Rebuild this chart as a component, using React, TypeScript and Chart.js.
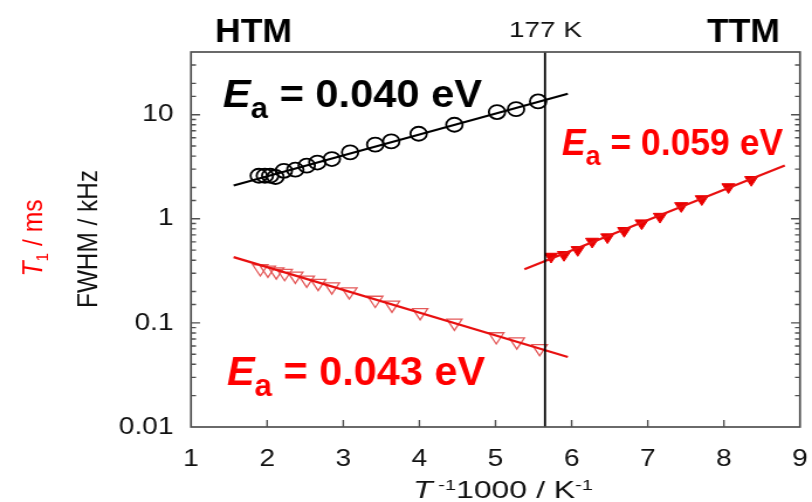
import React, { useEffect, useRef } from "react";
import { Chart, registerables } from "chart.js";

Chart.register(...registerables);

// The figure is horizontally stretched: logical canvas width is drawn into 812 CSS px.
const CSS_W = 812;
const CSS_H = 502;
const LOGICAL_W = 694;
const S = CSS_W / LOGICAL_W;

// ---- data (x = 1000/T in K^-1) ----
const fwhmX = [1.89, 1.97, 2.04, 2.11, 2.22, 2.37, 2.52, 2.66, 2.85, 3.09, 3.42, 3.63, 3.99, 4.46, 5.02, 5.27, 5.56];
const fwhmY = [2.59, 2.59, 2.59, 2.52, 2.89, 2.96, 3.24, 3.47, 3.75, 4.35, 5.15, 5.54, 6.56, 8.0, 10.6, 11.3, 13.4];

const t1HtmX = [1.91, 2.01, 2.12, 2.23, 2.37, 2.52, 2.67, 2.85, 3.08, 3.42, 3.64, 4.01, 4.46, 5.01, 5.28, 5.58];
const t1HtmY = [0.333, 0.323, 0.311, 0.3, 0.283, 0.259, 0.241, 0.223, 0.2, 0.166, 0.149, 0.126, 0.1, 0.074, 0.066, 0.057];

const t1TtmX = [5.73, 5.9, 6.08, 6.27, 6.47, 6.69, 6.92, 7.16, 7.44, 7.71, 8.06, 8.36];
const t1TtmY = [0.434, 0.451, 0.503, 0.605, 0.667, 0.767, 0.908, 1.05, 1.33, 1.55, 2.02, 2.37];

const fitFwhmX = [1.56, 5.95];
const fitFwhmY = [2.09, 15.9];
const fitHtmX = [1.56, 5.95];
const fitHtmY = [0.428, 0.047];
const fitTtmX = [5.38, 8.8];
const fitTtmY = [0.328, 3.25];

const transitionX = [5.65, 5.65];
const transitionY = [0.01, 40];

const xTickValues = [1, 2, 3, 4, 5, 6, 7, 8, 9];
const yMajorValues = [0.01, 0.1, 1, 10];
const yMajorLabels = ["0.01", "0.1", "1", "10"];

const FONT = '"Liberation Sans", Arial, Helvetica, sans-serif';
const RED = "#ff0000";

const pts = (xs: number[], ys: number[]) => xs.map((x, i) => ({ x, y: ys[i] }));

const majorIndex = (v: number) => {
  for (let i = 0; i < yMajorValues.length; i++) {
    if (Math.abs(Math.log10(v) - Math.log10(yMajorValues[i])) < 1e-6) return i;
  }
  return -1;
};

type Part = { t: string; size: number; bold?: boolean; italic?: boolean; dy?: number };

const fontOf = (p: Part) =>
  `${p.italic ? "italic " : ""}${p.bold ? "bold " : ""}${p.size}px ${FONT}`;

function naturalWidth(ctx: CanvasRenderingContext2D, parts: Part[]) {
  let w = 0;
  for (const p of parts) {
    ctx.font = fontOf(p);
    w += ctx.measureText(p.t).width;
  }
  return w;
}

function drawRow(ctx: CanvasRenderingContext2D, parts: Part[]) {
  let cx = 0;
  ctx.textAlign = "left";
  ctx.textBaseline = "alphabetic";
  for (const p of parts) {
    ctx.font = fontOf(p);
    ctx.fillText(p.t, cx, p.dy || 0);
    cx += ctx.measureText(p.t).width;
  }
}

// horizontal text: left edge & width given in screen px
function drawText(ctx: CanvasRenderingContext2D, parts: Part[], xScreen: number, baseline: number, wScreen: number, color: string) {
  ctx.save();
  ctx.fillStyle = color;
  const w = naturalWidth(ctx, parts);
  const sx = wScreen / S / w;
  ctx.translate(xScreen / S, baseline);
  ctx.scale(sx, 1);
  drawRow(ctx, parts);
  ctx.restore();
}

// vertical text (reads bottom-to-top): baseline x (screen), centre y, length in px
function drawVText(ctx: CanvasRenderingContext2D, parts: Part[], baseXScreen: number, cy: number, len: number, color: string) {
  ctx.save();
  ctx.fillStyle = color;
  const w = naturalWidth(ctx, parts);
  const sx = len / w;
  ctx.translate(baseXScreen / S, cy);
  ctx.rotate(-Math.PI / 2);
  ctx.translate(-len / 2, 0);
  ctx.scale(sx, 1);
  drawRow(ctx, parts);
  ctx.restore();
}

const Ea = (value: string, size: number): Part[] => [
  { t: "E", size, bold: true, italic: true },
  { t: "a", size: Math.round(size * 0.75), bold: true, dy: Math.round(size * 0.28) },
  { t: " = " + value + " eV", size, bold: true },
];

const overlay = {
  id: "overlay",
  afterDraw(chart: any) {
    const ctx: CanvasRenderingContext2D = chart.ctx;
    const { left, right, top, bottom } = chart.chartArea;
    const xs = chart.scales.x;
    const ys = chart.scales.y;
    ctx.save();
    ctx.strokeStyle = "#505050";
    ctx.lineWidth = 1.7;
    ctx.strokeRect(left, top, right - left, bottom - top);
    ctx.lineWidth = 1.4;
    ctx.beginPath();
    ys.ticks.forEach((t: any) => {
      const yy = ys.getPixelForValue(t.value);
      if (yy <= top + 0.5 || yy >= bottom - 0.5) return;
      const len = (majorIndex(t.value) >= 0 ? 9 : 5) / S;
      ctx.moveTo(left, yy);
      ctx.lineTo(left + len, yy);
      ctx.moveTo(right, yy);
      ctx.lineTo(right - len, yy);
    });
    xs.ticks.forEach((t: any) => {
      const xx = xs.getPixelForValue(t.value);
      if (xx <= left + 0.5 || xx >= right - 0.5) return;
      ctx.moveTo(xx, bottom);
      ctx.lineTo(xx, bottom - 7);
    });
    ctx.stroke();
    ctx.restore();

    // annotations
    drawText(ctx, [{ t: "HTM", size: 33, bold: true }], 215, 42, 77, "#000");
    drawText(ctx, [{ t: "TTM", size: 34, bold: true }], 707, 42, 73, "#000");
    drawText(ctx, [{ t: "177 K", size: 22 }], 509, 37, 73, "#111");
    drawText(ctx, Ea("0.040", 39), 223, 107, 259, "#000");
    drawText(ctx, Ea("0.059", 37), 562, 155, 221, RED);
    drawText(ctx, Ea("0.043", 41), 227, 385, 258, RED);

    // axis titles
    drawVText(ctx, [{ t: "FWHM / kHz", size: 24 }], 97, 239, 138, "#111");
    drawVText(
      ctx,
      [
        { t: "T", size: 24, italic: true },
        { t: "1", size: 15, dy: 5 },
        { t: " / ms", size: 24 },
      ],
      42,
      238,
      77,
      RED
    );
    drawText(
      ctx,
      [
        { t: "T", size: 24, italic: true },
        { t: " -1", size: 15, dy: -8 },
        { t: "1000 / K", size: 24 },
        { t: "-1", size: 15, dy: -8 },
      ],
      413,
      498,
      180,
      "#111"
    );
  },
};

export default function App() {
  const ref = useRef<HTMLCanvasElement | null>(null);

  useEffect(() => {
    document.body.style.margin = "0";
    const canvas = ref.current;
    if (!canvas) return;
    const chart = new Chart(canvas, {
      type: "scatter",
      data: {
        datasets: [
          {
            label: "177 K",
            data: pts(transitionX, transitionY),
            showLine: true,
            borderColor: "#000",
            borderWidth: 1.8,
            pointRadius: 0,
          },
          {
            label: "FWHM fit",
            data: pts(fitFwhmX, fitFwhmY),
            showLine: true,
            borderColor: "#000",
            borderWidth: 2.2,
            pointRadius: 0,
          },
          {
            label: "T1 HTM fit",
            data: pts(fitHtmX, fitHtmY),
            showLine: true,
            borderColor: "rgb(232,16,16)",
            borderWidth: 2.2,
            pointRadius: 0,
          },
          {
            label: "T1 TTM fit",
            data: pts(fitTtmX, fitTtmY),
            showLine: true,
            borderColor: "rgb(232,16,16)",
            borderWidth: 2.2,
            pointRadius: 0,
          },
          {
            label: "FWHM",
            data: pts(fwhmX, fwhmY),
            pointStyle: "circle",
            pointRadius: 7,
            pointBorderWidth: 1.8,
            borderColor: "#000",
            backgroundColor: "rgba(0,0,0,0)",
          },
          {
            label: "T1 HTM",
            data: pts(t1HtmX, t1HtmY),
            pointStyle: "triangle",
            rotation: 180,
            pointRadius: 7.5,
            pointBorderWidth: 1.3,
            borderColor: "rgb(228,90,90)",
            backgroundColor: "rgba(0,0,0,0)",
          },
          {
            label: "T1 TTM",
            data: pts(t1TtmX, t1TtmY),
            pointStyle: "triangle",
            rotation: 180,
            pointRadius: 6.5,
            pointBorderWidth: 1,
            borderColor: "rgb(235,0,0)",
            backgroundColor: "rgb(235,0,0)",
          },
        ],
      },
      options: {
        responsive: false,
        animation: false,
        devicePixelRatio: 1,
        layout: { padding: { left: 0, right: CSS_W / S - 800 / S, top: 52, bottom: 0 } },
        plugins: { legend: { display: false }, tooltip: { enabled: false } },
        scales: {
          x: {
            type: "linear",
            min: 1,
            max: 9,
            afterBuildTicks: (s: any) => {
              s.ticks = xTickValues.map((v) => ({ value: v }));
            },
            afterFit: (s: any) => {
              s.height = 75;
              s.paddingLeft = 0;
              s.paddingRight = 0;
            },
            grid: { display: false, drawTicks: false },
            border: { display: false },
            ticks: {
              padding: 18,
              color: "#111",
              font: { family: FONT, size: 24 },
              maxRotation: 0,
              autoSkip: false,
              callback: (v: any) => String(v),
            },
          },
          y: {
            type: "logarithmic",
            min: 0.01,
            max: 40,
            afterFit: (s: any) => {
              s.width = 191 / S;
            },
            grid: { display: false, drawTicks: false },
            border: { display: false },
            ticks: {
              padding: 15,
              color: "#111",
              autoSkip: false,
              font: { family: FONT, size: 24 },
              callback: (v: any) => {
                const i = majorIndex(Number(v));
                return i >= 0 ? yMajorLabels[i] : "";
              },
            },
          },
        },
      },
      plugins: [overlay],
    } as any);
    return () => chart.destroy();
  }, []);

  return (
    <div style={{ width: CSS_W, height: CSS_H }}>
      <canvas
        ref={ref}
        width={LOGICAL_W}
        height={CSS_H}
        style={{ width: CSS_W + "px", height: CSS_H + "px", display: "block" }}
      />
    </div>
  );
}
